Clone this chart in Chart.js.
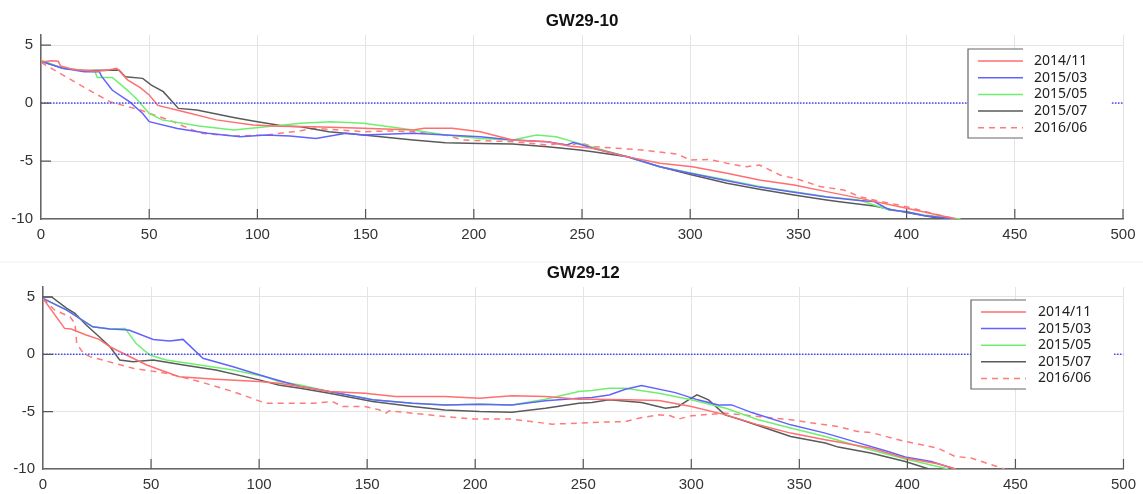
<!DOCTYPE html>
<html>
<head>
<meta charset="utf-8">
<script src="https://cdn.jsdelivr.net/npm/chart.js@4/dist/chart.umd.min.js"></script>
<style>
  body { margin: 0; background: #fff; }
  .wrap { position: relative; width: 1143px; height: 494px; }
  canvas { position: absolute; left: 0; }
  #chartTop { top: 0; }
  #chartBottom { top: 240px; }
</style>
</head>
<body>
<div class="wrap">
  <canvas id="chartTop" width="1143" height="240"></canvas>
  <canvas id="chartBottom" width="1143" height="254"></canvas>
</div>
<script>
// legend labels (survey dates)
const seriesLabels = ['2014/11', '2015/03', '2015/05', '2015/07', '2016/06'];
const xTicks = [0, 50, 100, 150, 200, 250, 300, 350, 400, 450, 500];
const yTicks = [-10, -5, 0, 5];

// GW29-10 : [distance, value]
const gw10_201411 = [[0,3.55],[5,3.65],[8,3.6],[9,3.2],[15,2.9],[25,2.75],[30,2.8],[35,3.0],[40,2.0],[46,1.3],[50,0.7],[54,-0.2],[66,-0.75],[81,-1.45],[98,-1.9],[110,-2.0],[126,-2.04],[149,-2.18],[172,-2.33],[177,-2.18],[190,-2.18],[203,-2.47],[212,-2.9],[218,-3.19],[234,-3.33],[244,-3.7],[255,-3.9],[270,-4.6],[286,-5.2],[301,-5.5],[317,-6.06],[332,-6.64],[348,-7.07],[363,-7.64],[378,-8.2],[400,-9.08],[423,-10]];
const gw10_201503 = [[0,3.6],[10,3.0],[20,2.7],[27,2.7],[28,2.3],[33,1.1],[41,0.1],[47,-0.9],[50,-1.6],[63,-2.2],[77,-2.6],[92,-2.9],[104,-2.76],[115,-2.85],[127,-3.05],[141,-2.61],[149,-2.76],[172,-2.61],[187,-2.76],[203,-2.9],[218,-3.19],[234,-3.33],[243,-3.62],[246,-3.4],[250,-3.6],[255,-3.9],[271,-4.63],[286,-5.49],[301,-6.1],[317,-6.7],[332,-7.25],[348,-7.7],[363,-8.1],[378,-8.4],[385,-8.5],[392,-9.2],[400,-9.37],[408,-9.7],[422,-10]];
const gw10_201505 = [[0,3.7],[10,3.0],[20,2.8],[25,2.7],[26,2.2],[33,2.2],[40,1.1],[44,0.4],[50,-0.9],[56,-1.45],[73,-1.98],[89,-2.33],[104,-2.04],[120,-1.75],[134,-1.61],[149,-1.75],[161,-2.04],[172,-2.33],[187,-2.76],[203,-3.05],[218,-3.19],[229,-2.76],[238,-2.9],[249,-3.5],[271,-4.63],[286,-5.49],[301,-6.06],[317,-6.64],[332,-7.2],[348,-7.64],[363,-8.08],[378,-8.36],[385,-8.79],[392,-9.22],[400,-9.37],[408,-9.66],[425,-10]];
const gw10_201507 = [[0,3.6],[10,3.0],[20,2.8],[36,2.85],[39,2.27],[47,2.13],[51,1.55],[56.5,0.98],[63.5,-0.46],[72,-0.6],[89,-1.24],[98,-1.55],[112,-1.98],[120,-2.04],[133,-2.47],[149,-2.76],[172,-3.19],[187,-3.42],[203,-3.48],[218,-3.53],[234,-3.76],[249,-4.05],[255,-4.19],[271,-4.63],[286,-5.49],[301,-6.2],[317,-6.92],[332,-7.44],[348,-7.93],[363,-8.36],[369,-8.51],[385,-8.88],[400,-9.45],[415,-9.94],[418,-10]];
const gw10_201606 = [[0,3.5],[20,1.35],[32,0.1],[46,-0.6],[61,-1.6],[73.5,-2.6],[89,-2.84],[104,-2.76],[120,-2.38],[126,-2.18],[149,-2.47],[161,-2.41],[172,-2.47],[187,-2.76],[195,-3.19],[218,-3.33],[234,-3.62],[240,-3.48],[244,-3.7],[249,-3.42],[255,-3.76],[278,-4.05],[294,-4.4],[300,-4.91],[309,-4.86],[317,-5.2],[326,-5.49],[332,-5.34],[341.5,-6.2],[351,-6.64],[360,-7.2],[371,-7.5],[378.5,-8.08],[385,-8.36],[400,-8.94],[415,-9.66],[423,-10]];

// GW29-12
const gw12_201411 = [[0,4.87],[10,2.26],[13,2.2],[20,1.68],[26,1.3],[31,0.66],[38.6,-0.06],[48,-0.93],[63,-1.95],[80,-2.18],[100,-2.38],[109,-2.52],[119,-2.81],[132.5,-3.25],[149,-3.39],[163,-3.68],[186,-3.68],[202,-3.83],[217,-3.62],[232.5,-3.68],[248,-3.91],[254,-3.91],[270,-3.97],[285,-4.03],[300,-4.55],[316,-5.28],[331,-6.15],[346,-6.87],[362,-7.45],[368,-7.65],[383,-8.17],[399,-9.05],[414,-9.54],[422.5,-10]];
const gw12_201503 = [[0,4.87],[11,3.85],[23,2.4],[31,2.2],[38,2.15],[40,2.1],[51,1.3],[58.6,1.16],[64.8,1.3],[74,-0.35],[88,-1.08],[103,-1.95],[119,-2.81],[132.5,-3.25],[152.5,-3.97],[171,-4.26],[186,-4.41],[202,-4.35],[217,-4.41],[232.5,-4.05],[248,-3.83],[254,-3.77],[262,-3.54],[269.5,-3.04],[277,-2.73],[292.6,-3.34],[303,-3.97],[312.6,-4.41],[318.7,-4.41],[328,-5.08],[346,-6.15],[362,-6.87],[368,-7.2],[377,-7.7],[391,-8.47],[399,-8.96],[411,-9.34],[422,-10]];
const gw12_201505 = [[0,4.87],[11,3.85],[23,2.4],[31,2.2],[38,2.26],[43,0.96],[49.4,-0.06],[57,-0.5],[72.5,-0.93],[88,-1.37],[103,-1.95],[109,-2.38],[119,-2.67],[132.5,-3.25],[152.5,-3.97],[171,-4.26],[186,-4.41],[202,-4.35],[217,-4.41],[232.5,-3.91],[248,-3.25],[254,-3.16],[262,-2.96],[269.5,-2.96],[285,-3.39],[300,-3.97],[316,-4.7],[331,-5.71],[346,-6.43],[362,-7.16],[368,-7.5],[377,-8.0],[383,-8.32],[399,-9.13],[419,-10]];
const gw12_201507 = [[0,5],[4,5],[11,4.0],[14.8,3.57],[20,2.55],[26,1.53],[31,0.66],[35.5,-0.5],[41.7,-0.64],[51,-0.5],[65,-0.93],[80,-1.37],[100,-2.23],[109,-2.67],[119,-2.96],[132.5,-3.39],[152.5,-4.12],[171,-4.55],[186,-4.85],[202,-4.99],[217,-5.05],[232.5,-4.7],[248,-4.26],[254,-4.2],[262,-3.97],[277,-4.2],[288,-4.7],[294,-4.55],[298.7,-3.97],[302.6,-3.54],[308,-3.97],[315.6,-5.28],[323,-5.71],[346,-7.16],[362,-7.74],[368,-8.09],[383,-8.61],[399,-9.34],[410,-10]];
const gw12_201606 = [[0,4.87],[5.5,3.85],[12.5,3.27],[14.8,2.7],[15.6,0.96],[18.6,0.09],[21.7,-0.2],[41.7,-1.22],[57,-1.65],[72.5,-2.38],[88,-3.25],[103,-4.26],[109,-4.26],[125,-4.26],[134,-4.12],[138.6,-4.55],[149,-4.55],[155.6,-4.84],[158.7,-5.13],[160.2,-4.93],[171,-5.13],[186,-5.42],[199,-5.65],[217,-5.65],[235.6,-6.09],[248,-6.0],[254,-5.94],[269.5,-5.86],[275.6,-5.57],[285,-5.28],[290,-5.33],[294,-5.65],[300,-5.36],[315.6,-5.13],[331,-5.42],[346,-5.71],[362,-6.15],[368,-6.29],[377,-6.73],[383,-6.81],[399,-7.6],[414,-8.17],[422,-8.9],[429.5,-9.05],[445,-10]];

// reference level
const zeroLine = [[0,0],[500,0]];

const COLORS = ['#ff6f6f', '#6262ff', '#6ef06e', '#5a5a5a', '#ff7a7a'];
const DASHES = [[], [], [], [], [6, 5]];
const TICK_FONT = "15px 'Liberation Sans', Arial, sans-serif";

function toPts(arr) {
  return arr.map(p => ({ x: p[0], y: p[1] }));
}

function buildDatasets(seriesList) {
  const sets = [{
    label: 'zero',
    data: toPts(zeroLine),
    borderColor: '#4848ff',
    borderWidth: 1.6,
    borderDash: [1.5, 1.5],
    pointRadius: 0
  }];
  seriesList.forEach((s, i) => {
    sets.push({
      label: seriesLabels[i],
      data: toPts(s),
      borderColor: COLORS[i],
      borderWidth: 1.5,
      borderDash: DASHES[i],
      pointRadius: 0,
      tension: 0
    });
  });
  return sets;
}

// MATLAB-like decorations: title, inward ticks, legend box
const matlabAxes = {
  id: 'matlabAxes',
  afterDatasetsDraw(chart, args, opts) {
    const ctx = chart.ctx;
    const lg = opts.legend;
    ctx.save();
    ctx.fillStyle = '#fff';
    ctx.fillRect(lg.x, lg.y, lg.bgW, lg.h);
    ctx.strokeStyle = '#666';
    ctx.lineWidth = 1.2;
    ctx.beginPath();
    ctx.moveTo(lg.x + lg.borderW, lg.y);
    ctx.lineTo(lg.x, lg.y);
    ctx.lineTo(lg.x, lg.y + lg.h);
    ctx.lineTo(lg.x + lg.borderW, lg.y + lg.h);
    ctx.stroke();
    ctx.font = "14px 'Noto Sans', sans-serif";
    ctx.textBaseline = 'middle';
    seriesLabels.forEach((lab, i) => {
      const yy = lg.y + lg.first + i * lg.step;
      ctx.strokeStyle = COLORS[i];
      ctx.lineWidth = 1.5;
      ctx.setLineDash(DASHES[i]);
      ctx.beginPath();
      ctx.moveTo(lg.x + 10, yy);
      ctx.lineTo(lg.x + 55, yy);
      ctx.stroke();
      ctx.setLineDash([]);
      ctx.fillStyle = '#222';
      ctx.fillText(lab, lg.x + lg.textOff, yy);
    });
    ctx.restore();
  },
  afterDraw(chart, args, opts) {
    const ctx = chart.ctx;
    const area = chart.chartArea;
    const xs = chart.scales.x;
    const ys = chart.scales.y;
    ctx.save();
    ctx.strokeStyle = '#555';
    ctx.lineWidth = 1.2;
    ctx.beginPath();
    xTicks.slice(1).forEach(v => {
      const px = xs.getPixelForValue(v);
      ctx.moveTo(px, area.bottom);
      ctx.lineTo(px, area.bottom - 10);
    });
    yTicks.slice(1).forEach(v => {
      const py = ys.getPixelForValue(v);
      ctx.moveTo(area.left, py);
      ctx.lineTo(area.left + 10, py);
    });
    ctx.stroke();

    ctx.fillStyle = '#111';
    ctx.font = "bold 17px 'Liberation Sans', Arial, sans-serif";
    ctx.textAlign = 'center';
    ctx.textBaseline = 'middle';
    ctx.fillText(opts.title, (area.left + area.right) / 2, opts.titleY);

    if (opts.sepY) {
      ctx.strokeStyle = '#f0f0f0';
      ctx.lineWidth = 1;
      ctx.beginPath();
      ctx.moveTo(0, opts.sepY);
      ctx.lineTo(chart.width, opts.sepY);
      ctx.stroke();
    }
    ctx.restore();
  }
};

function makeChart(canvasId, seriesList, cfg) {
  const ctx = document.getElementById(canvasId).getContext('2d');
  return new Chart(ctx, {
    type: 'line',
    data: { datasets: buildDatasets(seriesList) },
    options: {
      responsive: false,
      devicePixelRatio: 1,
      animation: false,
      layout: { padding: { top: cfg.padTop, right: cfg.padRight, left: 0, bottom: 0 } },
      plugins: {
        legend: { display: false },
        tooltip: { enabled: false },
        matlabAxes: {
          title: cfg.title,
          titleY: cfg.titleY,
          sepY: cfg.sepY,
          legend: cfg.legend
        }
      },
      scales: {
        x: {
          type: 'linear',
          min: 0,
          max: 500,
          afterFit: s => { s.height = cfg.xAxisH; },
          afterBuildTicks: s => { s.ticks = xTicks.map(v => ({ value: v })); },
          grid: { color: '#e4e4e4', lineWidth: 1, drawTicks: false },
          border: { color: '#666', width: 1.5 },
          ticks: { color: '#333', padding: 7, maxRotation: 0, font: { family: "'Liberation Sans', Arial, sans-serif", size: 15 } }
        },
        y: {
          type: 'linear',
          min: -10,
          max: 5.87,
          afterFit: s => { s.width = cfg.yAxisW; },
          afterBuildTicks: s => { s.ticks = yTicks.map(v => ({ value: v })); },
          grid: { color: '#e4e4e4', lineWidth: 1, drawTicks: false },
          border: { color: '#666', width: 1.5 },
          ticks: { color: '#333', padding: 8, font: { family: "'Liberation Sans', Arial, sans-serif", size: 15 } }
        }
      }
    },
    plugins: [matlabAxes]
  });
}

makeChart('chartTop', [gw10_201411, gw10_201503, gw10_201505, gw10_201507, gw10_201606], {
  title: 'GW29-10',
  titleY: 21,
  padTop: 35,
  padRight: 20,
  xAxisH: 21,
  yAxisW: 41,
  legend: { x: 968, y: 49, h: 89, bgW: 143, borderW: 55, first: 12, step: 16.7, textOff: 66 }
});

makeChart('chartBottom', [gw12_201411, gw12_201503, gw12_201505, gw12_201507, gw12_201606], {
  title: 'GW29-12',
  titleY: 33,
  sepY: 22,
  padTop: 47,
  padRight: 17,
  xAxisH: 25,
  yAxisW: 43,
  legend: { x: 971, y: 60, h: 89, bgW: 143, borderW: 55, first: 12, step: 16.6, textOff: 67 }
});
</script>
</body>
</html>
